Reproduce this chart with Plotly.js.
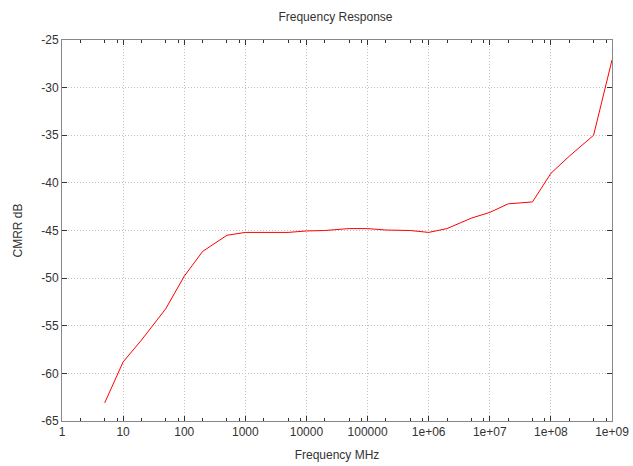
<!DOCTYPE html>
<html>
<head>
<meta charset="utf-8">
<script src="https://cdn.plot.ly/plotly-3.0.1.min.js"></script>
<style>html,body{margin:0;padding:0;background:#fff;}#chart{width:633px;height:466px;}</style>
</head>
<body>
<div id="chart"></div>
<script>
var freqMHz = [5, 10, 20, 50, 100, 200, 500, 1000, 5000, 10000, 20000, 50000, 100000, 200000, 500000, 1e6, 2e6, 5e6, 1e7, 2e7, 5e7, 1e8, 2e8, 5e8, 1e9];
var cmrrDb = [-63.1, -58.8, -56.5, -53.2, -49.8, -47.2, -45.5, -45.2, -45.2, -45.05, -45.0, -44.8, -44.8, -44.95, -45.0, -45.2, -44.8, -43.7, -43.1, -42.2, -42.0, -39.0, -37.2, -35.0, -27.1];
var xTickVals = [1, 10, 100, 1000, 10000, 100000, 1e6, 1e7, 1e8, 1e9];
var xTickText = ["1", "10", "100", "1000", "10000", "100000", "1e+06", "1e+07", "1e+08", "1e+09"];
var yTickVals = [-65, -60, -55, -50, -45, -40, -35, -30, -25];
var yTickText = ["-65", "-60", "-55", "-50", "-45", "-40", "-35", "-30", "-25"];
var minorMantissas = [2, 5, 8];

var minorVals = [];
for (var k = 0; k < 9; k++) {
  minorMantissas.forEach(function (m) { minorVals.push(m * Math.pow(10, k)); });
}

var font = {family: "Liberation Sans, Arial, sans-serif", size: 11, color: "#333"};

Plotly.newPlot("chart", [{
  x: freqMHz, y: cmrrDb, type: "scatter", mode: "lines",
  line: {color: "#ff0000", width: 1}, hoverinfo: "skip"
}], {
  width: 633, height: 466,
  margin: {l: 62, r: 21, t: 40, b: 45},
  paper_bgcolor: "#fff", plot_bgcolor: "#fff",
  showlegend: false,
  font: font,
  title: {text: "Frequency Response", font: {family: font.family, size: 12, color: "#333"}, x: 0.53, xanchor: "center", y: 0.965, yanchor: "middle"},
  xaxis: {
    type: "log", range: [0, 9],
    tickmode: "array", tickvals: xTickVals, ticktext: xTickText,
    ticks: "inside", ticklen: 5, tickcolor: "#333", tickwidth: 1,
    showline: true, linecolor: "#888", linewidth: 1, mirror: "ticks",
    showgrid: true, gridcolor: "#c0c0c0", griddash: "1px,2px", gridwidth: 1,
    zeroline: false,
    minor: {tickmode: "array", tickvals: minorVals, ticks: "inside", ticklen: 3, tickcolor: "#333", showgrid: false},
    title: {text: "Frequency MHz", font: {family: font.family, size: 12, color: "#333"}, standoff: 12},
    tickfont: {family: font.family, size: 12, color: "#333"}
  },
  yaxis: {
    range: [-65, -25],
    tickmode: "array", tickvals: yTickVals, ticktext: yTickText,
    ticks: "inside", ticklen: 5, tickcolor: "#333", tickwidth: 1,
    showline: true, linecolor: "#888", linewidth: 1, mirror: "ticks",
    showgrid: true, gridcolor: "#c0c0c0", griddash: "1px,2px", gridwidth: 1,
    zeroline: false,
    title: {text: "CMRR dB", font: {family: font.family, size: 12, color: "#333"}, standoff: 16},
    tickfont: {family: font.family, size: 12, color: "#333"}
  }
}, {displayModeBar: false, staticPlot: true});
</script>
</body>
</html>
